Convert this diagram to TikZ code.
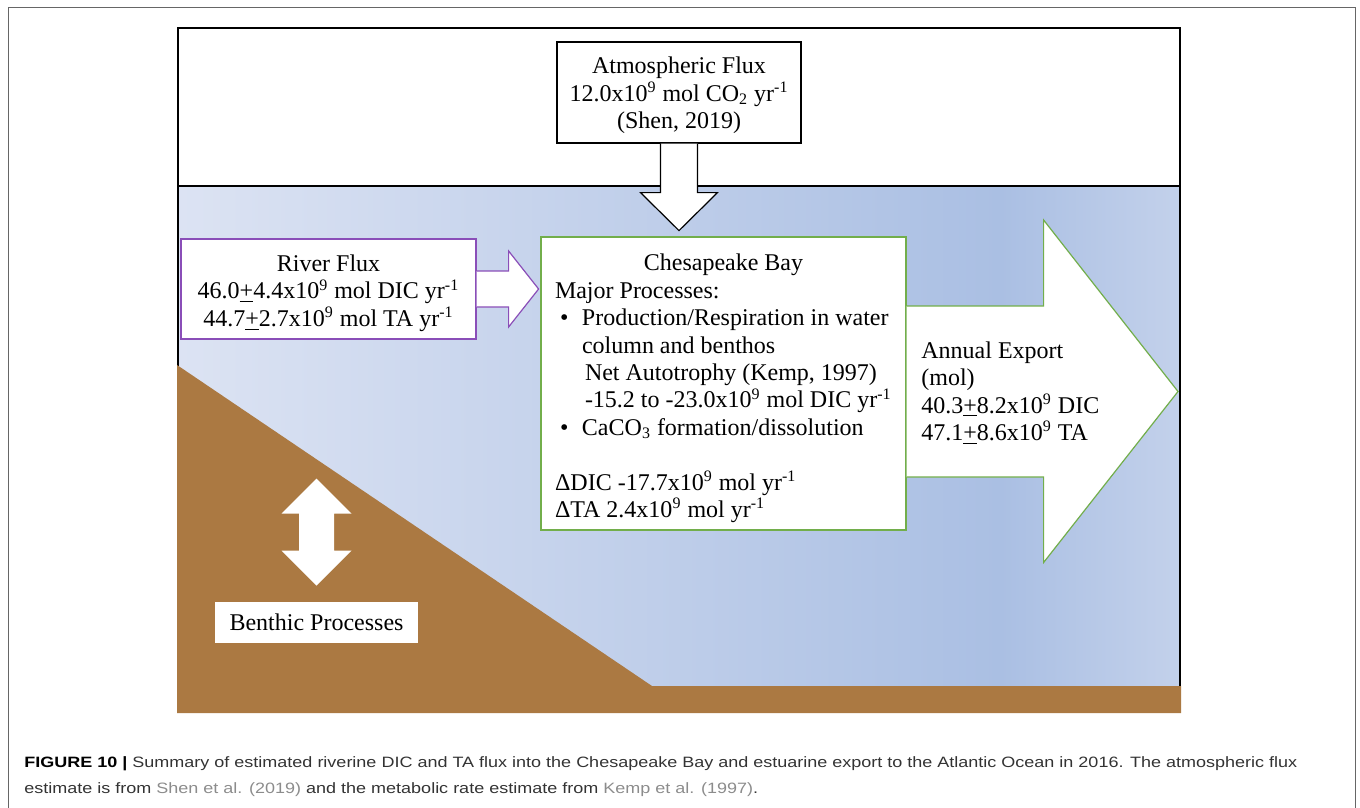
\documentclass[tikz,border=0pt]{standalone}
\usepackage{fontspec}
\setmainfont{Liberation Serif}
\newfontfamily\capfont[FakeStretch=1.2]{Liberation Sans}
\usepackage{tikz}
\usetikzlibrary{calc,positioning}

\definecolor{sediment}{HTML}{AB7942}
\definecolor{waterlight}{HTML}{DCE3F3}
\definecolor{waterdark}{HTML}{AABFE3}
\definecolor{waterright}{HTML}{C3D1EB}
\definecolor{riverpurple}{HTML}{8A4EB8}
\definecolor{baygreen}{HTML}{72AE4B}
\definecolor{linkgray}{HTML}{8C8C8C}
\definecolor{capgray}{HTML}{333333}

\begin{document}
\begin{tikzpicture}[x=0.5pt,y=-0.5pt,
        every node/.style={font=\fontsize{12}{13.7}\selectfont},
        box/.style={draw,fill=white,line width=0.6pt,inner sep=0pt},
        boxtxt/.style={inner sep=0pt,align=center},
        blockarrow/.style={fill=white,line width=0.6pt,line join=miter},
        captxt/.style={font=\capfont\fontsize{7.5}{13}\selectfont,text=capgray,inner sep=0pt,anchor=base west}]
        \useasboundingbox (0,0) rectangle (1360,808);
        \draw[gray!80!black,line width=0.5pt] (8,808) -- (8,8) -- (1355,8) -- (1355,808);

        % air and water
        \fill[left color=waterlight,right color=waterdark] (178,186) rectangle (1000,712);
        \fill[left color=waterdark,right color=waterright] (1000,186) rectangle (1180,712);
        \draw[line width=0.8pt] (178,28) rectangle (1180,712);
        \draw[line width=0.8pt] (178,186) -- (1180,186);

        % sediment
        \fill[sediment] (177,365) -- (652,686) -- (1181,686) -- (1181,713) -- (177,713) -- cycle;

        \node[box,minimum width=122pt,minimum height=50.5pt] (atm) at (679,92.5) {};
        \node[boxtxt] (atmtxt) at ($(atm.center)+(0,3)$)
            {Atmospheric Flux\\12.0x10\textsuperscript{9} mol CO\textsubscript{2} yr\textsuperscript{-1}\\(Shen, 2019)};
        \node[box,draw=riverpurple,minimum width=147.5pt,minimum height=50pt] (river) at (328.5,289) {};
        \node[boxtxt] (rivertxt) at ($(river.center)+(0,4)$)
            {River Flux\\46.0\underline{+}4.4x10\textsuperscript{9} mol DIC yr\textsuperscript{-1}\\44.7\underline{+}2.7x10\textsuperscript{9} mol TA yr\textsuperscript{-1}};
        \node[box,draw=baygreen,minimum width=182.5pt,minimum height=146.5pt] (bay) at (723.5,383.5) {};
        \node[boxtxt,align=left] (baytxt) at ($(bay.center)+(0,5)$)
            {\makebox[168.5pt]{Chesapeake Bay}\\
             Major Processes:\\
             \hspace*{2.5pt}\makebox[11pt][l]{•}Production/Respiration in water\\
             \hspace*{13.5pt}column and benthos\\
             \hspace*{15pt}Net Autotrophy (Kemp, 1997)\\
             \hspace*{15pt}-15.2 to -23.0x10\textsuperscript{9} mol DIC yr\textsuperscript{-1}\\
             \hspace*{2.5pt}\makebox[11pt][l]{•}CaCO\textsubscript{3} formation/dissolution\\[13.7pt]
             ΔDIC -17.7x10\textsuperscript{9} mol yr\textsuperscript{-1}\\
             ΔTA 2.4x10\textsuperscript{9} mol yr\textsuperscript{-1}};
        \coordinate (ocean) at (1178,391.5);
        \node[fill=white,inner sep=0pt,minimum width=101.5pt,minimum height=20.5pt] (benthic) at (316.5,622.5) {Benthic Processes};

        % fluxes
        \draw[blockarrow] ($(atm.south)+(-18.5,0)$) -- ++(0,49) -- ++(-20,0) -- ($(atm.south)+(0,87)$)
            -- ($(atm.south)+(38.5,49)$) -- ++(-20,0) -- ($(atm.south)+(18.5,0)$);
        \draw[blockarrow,draw=riverpurple] ($(river.east)+(0,-18)$) -- ++(32,0) -- ++(0,-20) -- ($(river.east)+(62,0)$)
            -- ($(river.east)+(32,38)$) -- ++(0,-20) -- ($(river.east)+(0,18)$);
        \draw[blockarrow,draw=baygreen] ($(bay.east |- ocean)+(0,-85.5)$) -- ++(137,0) -- ++(0,-86) -- (ocean)
            -- ($(bay.east |- ocean)+(137,171)$) -- ++(0,-85.5) -- ($(bay.east |- ocean)+(0,85.5)$);
        \fill[white] ($(benthic.north)+(0,-16)$) -- ++(-35,-35) -- ++(17.5,0) -- ++(0,-37) -- ++(-17.5,0) -- ++(35,-35)
            -- ++(35,35) -- ++(-17.5,0) -- ++(0,37) -- ++(17.5,0) -- cycle;

        \node[inner sep=0pt,anchor=west,align=left] (export) at (921,393)
            {Annual Export\\(mol)\\40.3\underline{+}8.2x10\textsuperscript{9} DIC\\47.1\underline{+}8.6x10\textsuperscript{9} TA};

        % caption
        \node[captxt] (cap1) at (24,767) {{\color{black}\textbf{FIGURE 10 |}} Summary of estimated riverine DIC and TA flux into the Chesapeake Bay and estuarine export to the Atlantic Ocean in 2016. The atmospheric flux};
        \node[captxt] (cap2) at (24,793) {estimate is from \textcolor{linkgray}{Shen et al. (2019)} and the metabolic rate estimate from \textcolor{linkgray}{Kemp et al. (1997)}.};
    \end{tikzpicture}
\end{document}
